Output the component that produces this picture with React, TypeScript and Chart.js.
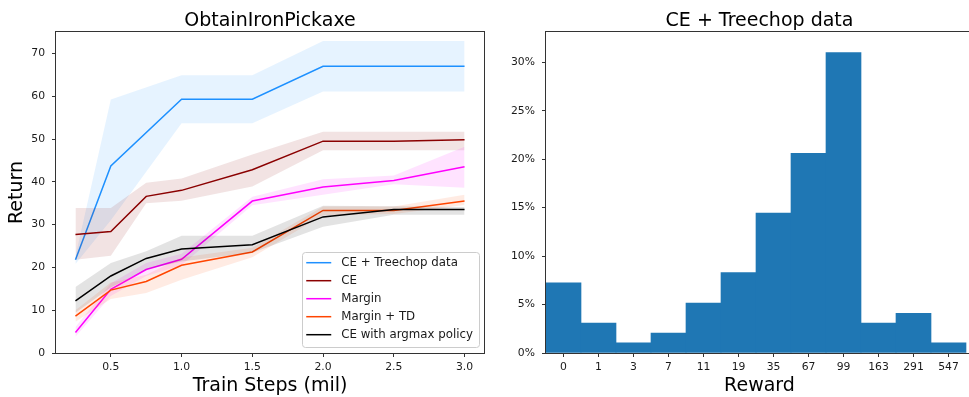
import React, { useEffect, useRef } from 'react';
import { Chart, registerables } from 'chart.js';

Chart.register(...registerables);

// ---------------- Data ----------------
const stepsAll = [0.25, 0.5, 0.75, 1.0, 1.5, 2.0, 2.5, 3.0];
const stepsTreechop = [0.25, 0.5, 1.0, 1.5, 2.0, 3.0];

const treechopMean = [21.8, 43.7, 59.3, 59.3, 67.0, 67.0];
const treechopLow = [20.8, 31.0, 53.7, 53.7, 61.1, 61.1];
const treechopHigh = [22.6, 59.2, 64.9, 64.9, 72.9, 72.9];

const ceMean = [27.7, 28.4, 36.6, 38.0, 42.8, 49.5, 49.5, 49.8];
const ceLow = [21.8, 22.7, 35.0, 35.6, 38.9, 47.4, 47.4, 47.4];
const ceHigh = [33.9, 33.9, 39.8, 40.8, 46.4, 51.7, 51.7, 51.7];

const marginMean = [4.8, 14.9, 19.5, 21.9, 35.5, 38.8, 40.3, 43.5];
const marginLow = [3.8, 13.3, 18.0, 20.5, 34.5, 37.0, 39.4, 38.6];
const marginHigh = [6.1, 16.3, 21.0, 23.2, 36.5, 40.6, 41.5, 48.2];

const marginTdMean = [8.6, 14.7, 16.7, 20.5, 23.6, 33.3, 33.3, 35.5];
const marginTdLow = [7.3, 12.6, 14.0, 17.1, 22.4, 32.2, 32.5, 34.6];
const marginTdHigh = [10.0, 16.5, 18.3, 22.3, 24.6, 34.2, 34.2, 37.0];

const argmaxMean = [12.2, 18.0, 22.1, 24.3, 25.3, 31.8, 33.5, 33.5];
const argmaxLow = [9.4, 15.3, 19.5, 21.4, 23.4, 29.5, 32.3, 32.3];
const argmaxHigh = [15.4, 21.0, 23.8, 27.4, 27.4, 34.4, 34.3, 34.1];

const seriesNames = ['CE + Treechop data', 'CE', 'Margin', 'Margin + TD', 'CE with argmax policy'];

const lineXTicks = [0.5, 1.0, 1.5, 2.0, 2.5, 3.0];
const lineYTicks = [0, 10, 20, 30, 40, 50, 60, 70];

const rewardLabels = ['0', '1', '3', '7', '11', '19', '35', '67', '99', '163', '291', '547'];
const rewardPct = [7.25, 3.1, 1.05, 2.05, 5.15, 8.3, 14.45, 20.6, 31.0, 3.1, 4.1, 1.05];
const pctTicks = [0, 5, 10, 15, 20, 25, 30];

// ---------------- Styles ----------------
const FONT = "'DejaVu Sans', sans-serif";
const TEXT = '#1a1a1a';
const SPINE = '#333333';

const seriesStyles = [
  { color: '#1E90FF', band: 'rgba(30,144,255,0.11)' },
  { color: '#8B0000', band: 'rgba(139,0,0,0.11)' },
  { color: '#FF00FF', band: 'rgba(255,0,255,0.11)' },
  { color: '#FF4500', band: 'rgba(255,69,0,0.11)' },
  { color: '#000000', band: 'rgba(0,0,0,0.11)' },
];

const series = [
  { x: stepsTreechop, mean: treechopMean, low: treechopLow, high: treechopHigh },
  { x: stepsAll, mean: ceMean, low: ceLow, high: ceHigh },
  { x: stepsAll, mean: marginMean, low: marginLow, high: marginHigh },
  { x: stepsAll, mean: marginTdMean, low: marginTdLow, high: marginTdHigh },
  { x: stepsAll, mean: argmaxMean, low: argmaxLow, high: argmaxHigh },
];

// ---------------- Plugins ----------------
const framePlugin = {
  id: 'frame',
  afterDraw(chart: any) {
    const { ctx, chartArea } = chart;
    const l = Math.round(chartArea.left) - 0.5;
    const t = Math.round(chartArea.top) - 0.5;
    const r = Math.round(chartArea.right) + 0.5;
    const b = Math.round(chartArea.bottom) + 0.5;
    ctx.save();
    ctx.strokeStyle = SPINE;
    ctx.lineWidth = 1;
    ctx.strokeRect(l, t, r - l, b - t);
    ctx.restore();
  },
};

const makeTitlePlugin = (text: string) => ({
  id: 'axTitle',
  afterDraw(chart: any) {
    const { ctx, chartArea } = chart;
    ctx.save();
    ctx.font = `19px ${FONT}`;
    ctx.fillStyle = '#000';
    ctx.textAlign = 'center';
    ctx.textBaseline = 'alphabetic';
    ctx.fillText(text, (chartArea.left + chartArea.right) / 2, chartArea.top - 6.5);
    ctx.restore();
  },
});

const legendPlugin = {
  id: 'innerLegend',
  afterDraw(chart: any) {
    const { ctx, chartArea } = chart;
    const fontSize = 11.8;
    ctx.save();
    ctx.font = `${fontSize}px ${FONT}`;
    const textW = Math.max(...seriesNames.map((n) => ctx.measureText(n).width));
    const w = 4 + 25 + 10 + textW + 6;
    const rowH = 18;
    const h = 11 + rowH * (seriesNames.length - 1) + 12;
    const right = chartArea.right - 5;
    const bottom = chartArea.bottom - 6.3;
    const left = right - w;
    const top = bottom - h;
    ctx.beginPath();
    ctx.roundRect(Math.round(left) + 0.5, Math.round(top) + 0.5, Math.round(w), Math.round(h), 3);
    ctx.fillStyle = 'rgba(255,255,255,0.85)';
    ctx.fill();
    ctx.strokeStyle = '#cccccc';
    ctx.lineWidth = 1;
    ctx.stroke();
    seriesNames.forEach((name, i) => {
      const y = top + 11 + i * rowH;
      ctx.beginPath();
      ctx.moveTo(left + 4, y);
      ctx.lineTo(left + 29, y);
      ctx.strokeStyle = seriesStyles[i].color;
      ctx.lineWidth = 1.5;
      ctx.stroke();
      ctx.fillStyle = TEXT;
      ctx.textAlign = 'left';
      ctx.textBaseline = 'middle';
      ctx.fillText(name, left + 39, y);
    });
    ctx.restore();
  },
};

const tickFont = { family: FONT, size: 10.8 };
const labelFont = { family: FONT, size: 19 };

function axisGrid() {
  return {
    display: true,
    drawOnChartArea: false,
    drawTicks: true,
    tickLength: 4,
    tickWidth: 1,
    color: SPINE,
  };
}

// ---------------- Charts ----------------
function LineChart() {
  const ref = useRef<HTMLCanvasElement | null>(null);
  useEffect(() => {
    if (!ref.current) return;
    const datasets: any[] = [];
    series.forEach((s, i) => {
      const st = seriesStyles[i];
      const order = series.length - i;
      datasets.push({
        label: seriesNames[i] + ' low',
        data: s.x.map((x, k) => ({ x, y: s.low[k] })),
        borderWidth: 0,
        borderColor: 'rgba(0,0,0,0)',
        pointRadius: 0,
        fill: false,
        order,
      });
      datasets.push({
        label: seriesNames[i] + ' high',
        data: s.x.map((x, k) => ({ x, y: s.high[k] })),
        borderWidth: 0,
        borderColor: 'rgba(0,0,0,0)',
        backgroundColor: st.band,
        pointRadius: 0,
        fill: '-1',
        order,
      });
      datasets.push({
        label: seriesNames[i],
        data: s.x.map((x, k) => ({ x, y: s.mean[k] })),
        borderColor: st.color,
        borderWidth: 1.5,
        pointRadius: 0,
        fill: false,
        tension: 0,
        order,
      });
    });
    const chart = new Chart(ref.current, {
      type: 'line',
      data: { datasets },
      options: {
        responsive: false,
        animation: false,
        events: [],
        layout: { padding: { top: 32, right: 6, left: 0, bottom: 0 } },
        plugins: { legend: { display: false }, tooltip: { enabled: false }, title: { display: false } },
        scales: {
          x: {
            type: 'linear',
            min: 0.1125,
            max: 3.1375,
            afterBuildTicks: (s: any) => {
              s.ticks = lineXTicks.map((v) => ({ value: v }));
            },
            afterFit: (s: any) => {
              s.height = 44;
            },
            ticks: {
              autoSkip: false,
              maxRotation: 0,
              padding: 4,
              color: TEXT,
              font: tickFont,
              callback: (v: any) => Number(v).toFixed(1),
            },
            grid: axisGrid(),
            border: { display: false },
            title: { display: true, text: 'Train Steps (mil)', color: '#000', font: labelFont, padding: { top: 0, bottom: 0 } },
          },
          y: {
            type: 'linear',
            min: 0,
            max: 75,
            afterBuildTicks: (s: any) => {
              s.ticks = lineYTicks.map((v) => ({ value: v }));
            },
            afterFit: (s: any) => {
              s.width = 56;
            },
            ticks: { padding: 7, color: TEXT, font: tickFont, callback: (v: any) => String(v) },
            grid: axisGrid(),
            border: { display: false },
            title: { display: true, text: 'Return', color: '#000', font: labelFont, padding: { top: 6, bottom: 0 } },
          },
        },
      } as any,
      plugins: [framePlugin, makeTitlePlugin('ObtainIronPickaxe'), legendPlugin],
    });
    return () => chart.destroy();
  }, []);
  return (
    <canvas
      ref={ref}
      width={490}
      height={397}
      style={{ position: 'absolute', left: 0, top: 0, width: 490, height: 397 }}
    />
  );
}

function BarChart() {
  const ref = useRef<HTMLCanvasElement | null>(null);
  useEffect(() => {
    if (!ref.current) return;
    const chart = new Chart(ref.current, {
      type: 'bar',
      data: {
        datasets: [
          {
            label: 'CE + Treechop data',
            data: rewardPct.map((y, i) => ({ x: i, y })),
            backgroundColor: '#1f77b4',
            borderWidth: 0,
            barPercentage: 1,
            categoryPercentage: 1,
          },
        ],
      },
      options: {
        responsive: false,
        animation: false,
        events: [],
        layout: { padding: { top: 32, right: 7, left: 0, bottom: 0 } },
        plugins: { legend: { display: false }, tooltip: { enabled: false }, title: { display: false } },
        scales: {
          x: {
            type: 'linear',
            offset: false,
            min: -0.5,
            max: 11.7,
            afterBuildTicks: (s: any) => {
              s.ticks = rewardLabels.map((_, i) => ({ value: i }));
            },
            afterFit: (s: any) => {
              s.height = 44;
            },
            ticks: {
              autoSkip: false,
              maxRotation: 0,
              padding: 4,
              color: TEXT,
              font: tickFont,
              callback: (v: any) => rewardLabels[Math.round(Number(v))] ?? '',
            },
            grid: { ...axisGrid(), offset: false },
            border: { display: false },
            title: { display: true, text: 'Reward', color: '#000', font: labelFont, padding: { top: 0, bottom: 0 } },
          },
          y: {
            type: 'linear',
            min: 0,
            max: 33.13,
            afterBuildTicks: (s: any) => {
              s.ticks = pctTicks.map((v) => ({ value: v }));
            },
            afterFit: (s: any) => {
              s.width = 56;
            },
            ticks: { padding: 7, color: TEXT, font: tickFont, callback: (v: any) => `${v}%` },
            grid: axisGrid(),
            border: { display: false },
          },
        },
      } as any,
      plugins: [framePlugin, makeTitlePlugin('CE + Treechop data')],
    });
    return () => chart.destroy();
  }, []);
  return (
    <canvas
      ref={ref}
      width={490}
      height={397}
      style={{ position: 'absolute', left: 490, top: 0, width: 490, height: 397 }}
    />
  );
}

export default function App() {
  return (
    <div
      style={{
        position: 'fixed',
        left: 0,
        top: 0,
        width: 969,
        height: 397,
        overflow: 'hidden',
        background: '#fff',
      }}
    >
      <LineChart />
      <BarChart />
    </div>
  );
}
